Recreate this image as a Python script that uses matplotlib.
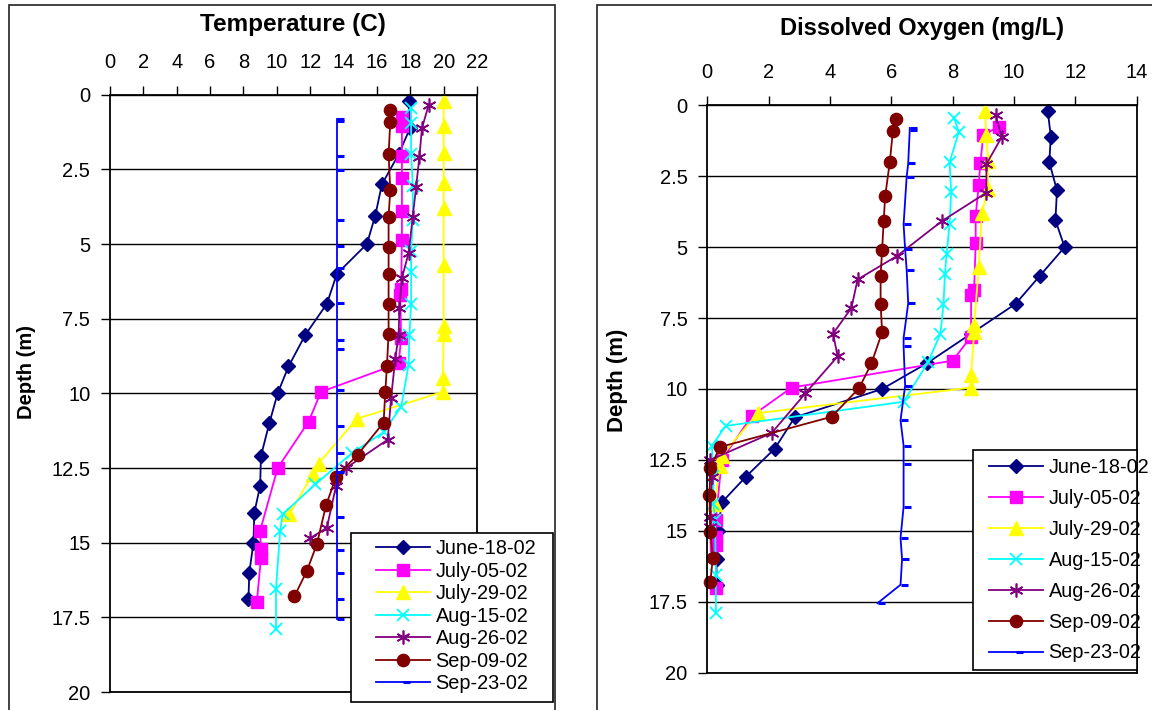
import matplotlib
matplotlib.use("Agg")
import matplotlib.pyplot as plt
from matplotlib.patches import Rectangle
from matplotlib.path import Path
from matplotlib.lines import Line2D

plt.rcParams['font.family'] = ['Liberation Sans', 'DejaVu Sans']

labels = ["June-18-02", "July-05-02", "July-29-02", "Aug-15-02", "Aug-26-02", "Sep-09-02", "Sep-23-02"]

jun18_depth = [0.2, 1.1, 2.0, 3.0, 4.05, 5.0, 6.0, 7.0, 8.05, 9.1, 10.0, 11.0, 12.1, 13.1, 14.0, 15.0, 16.0, 16.9]
jun18_temp = [17.9, 18.0, 17.3, 16.3, 15.9, 15.4, 13.6, 13.0, 11.7, 10.7, 10.05, 9.55, 9.05, 9.0, 8.65, 8.6, 8.35, 8.3]
jun18_do = [11.1, 11.2, 11.15, 11.4, 11.35, 11.65, 10.85, 10.05, 8.6, 7.15, 5.7, 2.85, 2.2, 1.25, 0.47, 0.35, 0.3, 0.3]

jul05_depth = [0.75, 1.05, 2.05, 2.8, 3.9, 4.85, 6.5, 6.7, 8.15, 9.0, 9.95, 10.95, 12.5, 14.6, 15.2, 15.5, 17.0]
jul05_temp = [17.5, 17.5, 17.5, 17.5, 17.5, 17.5, 17.45, 17.4, 17.45, 17.3, 12.65, 11.9, 10.05, 9.0, 9.05, 9.05, 8.8]
jul05_do = [9.5, 9.0, 8.9, 8.85, 8.75, 8.75, 8.7, 8.6, 8.6, 8.0, 2.75, 1.45, 0.47, 0.28, 0.28, 0.28, 0.28]

jul29_depth = [0.2, 1.05, 1.95, 2.95, 3.8, 5.7, 7.75, 8.0, 9.5, 9.95, 10.85, 12.35, 12.7, 14.05]
jul29_temp = [20.0, 20.0, 20.0, 20.0, 20.0, 20.0, 20.0, 20.0, 19.95, 19.95, 14.8, 12.5, 12.15, 10.75]
jul29_do = [9.05, 9.1, 9.15, 9.15, 8.95, 8.85, 8.7, 8.7, 8.6, 8.6, 1.65, 0.47, 0.4, 0.25]

aug15_depth = [0.45, 0.95, 2.0, 3.05, 4.2, 5.25, 5.95, 7.0, 8.05, 9.05, 10.45, 11.3, 12.0, 13.05, 14.05, 14.6, 16.55, 17.9]
aug15_temp = [18.05, 18.05, 18.05, 18.15, 18.15, 18.05, 18.05, 18.05, 17.95, 17.9, 17.45, 16.4, 14.5, 12.3, 10.35, 10.2, 9.95, 9.95]
aug15_do = [8.05, 8.2, 7.9, 7.95, 7.9, 7.8, 7.75, 7.7, 7.6, 7.2, 6.4, 0.6, 0.15, 0.2, 0.2, 0.25, 0.28, 0.28]

aug26_depth = [0.35, 1.12, 2.07, 3.08, 4.08, 5.3, 6.14, 7.14, 8.05, 8.85, 10.15, 11.55, 12.5, 13.1, 14.5, 14.85]
aug26_temp = [19.1, 18.7, 18.55, 18.35, 18.15, 17.9, 17.5, 17.35, 17.3, 17.1, 16.85, 16.65, 14.15, 13.55, 13.0, 12.0]
aug26_do = [9.4, 9.6, 9.1, 9.1, 7.65, 6.2, 4.9, 4.7, 4.1, 4.25, 3.2, 2.1, 0.1, 0.15, 0.1, 0.1]

sep09_depth = [0.5, 0.92, 2.0, 3.2, 4.08, 5.1, 6.0, 7.0, 8.0, 9.1, 9.97, 10.98, 12.05, 12.8, 13.75, 15.05, 15.95, 16.8]
sep09_temp = [16.8, 16.8, 16.7, 16.8, 16.7, 16.7, 16.7, 16.7, 16.7, 16.6, 16.5, 16.4, 14.85, 13.55, 12.95, 12.4, 11.8, 11.05]
sep09_do = [6.15, 6.05, 5.95, 5.8, 5.75, 5.7, 5.65, 5.65, 5.7, 5.35, 4.95, 4.05, 0.4, 0.1, 0.07, 0.1, 0.18, 0.1]

sep23_depth = [0.8, 0.88, 2.05, 2.52, 4.2, 5.08, 5.8, 6.98, 8.2, 8.5, 9.88, 11.1, 12.0, 12.65, 14.15, 15.25, 16.0, 16.9, 17.55]
sep23_temp = [13.6, 13.6, 13.6, 13.6, 13.6, 13.6, 13.6, 13.6, 13.6, 13.6, 13.6, 13.6, 13.6, 13.6, 13.6, 13.6, 13.6, 13.6, 13.6]
sep23_do = [6.6, 6.6, 6.55, 6.5, 6.4, 6.45, 6.5, 6.55, 6.4, 6.4, 6.45, 6.3, 6.4, 6.4, 6.4, 6.3, 6.35, 6.3, 5.55]

temp_ticks = list(range(0, 23, 2))
do_ticks = list(range(0, 15, 2))
depth_ticks = [0, 2.5, 5, 7.5, 10, 12.5, 15, 17.5, 20]
depth_ticklabels = ["0", "2.5", "5", "7.5", "10", "12.5", "15", "17.5", "20"]

dash_right = Path([(0, 0), (1, 0)], [Path.MOVETO, Path.LINETO])
styles = [
    dict(color="#000080", marker="D", ms=7, mfc="#000080", mec="#000080"),
    dict(color="#FF00FF", marker="s", ms=9, mfc="#FF00FF", mec="#FF00FF"),
    dict(color="#FFFF00", marker="^", ms=10, mfc="#FFFF00", mec="#FFFF00"),
    dict(color="#00FFFF", marker="x", ms=9, mfc="none", mec="#00FFFF", mew=1.3),
    dict(color="#800080", marker=(6, 2, 0), ms=10, mec="#800080", mew=1.2),
    dict(color="#800000", marker="o", ms=8.8, mfc="#800000", mec="#800000"),
    dict(color="#0000FF", marker=dash_right, ms=9.5, mec="#0000FF", mew=2.2),
]

W, H = 1152, 710
fig = plt.figure(figsize=(W / 100, H / 100), dpi=100)

def fx(px):
    return px / W

def fy(py):
    return 1 - py / H

FS = 14.5
LFS = 14.3

def setup(ax, xmax, xticks):
    ax.set_xlim(0, xmax)
    ax.set_ylim(20, 0)
    ax.xaxis.tick_top()
    ax.set_xticks(xticks)
    ax.set_yticks(depth_ticks)
    ax.set_yticklabels(depth_ticklabels)
    ax.tick_params(axis="x", direction="out", length=6.2, width=1, pad=10.5, labelsize=FS)
    ax.tick_params(axis="y", direction="out", length=6.2, width=1, pad=8, labelsize=FS)
    ax.grid(axis="y", color="black", lw=1)
    ax.set_axisbelow(True)
    for s in ax.spines.values():
        s.set_linewidth(1.3)
        s.set_color("black")

# Outer chart frames
fig.add_artist(Rectangle((fx(9), fy(715)), fx(555) - fx(9), fy(5) - fy(715), transform=fig.transFigure,
                         fill=False, ec="#333333", lw=1.3, zorder=0))
fig.add_artist(Rectangle((fx(597), fy(715)), fx(1160) - fx(597), fy(5) - fy(715), transform=fig.transFigure,
                         fill=False, ec="#333333", lw=1.3, zorder=0))

ax1 = fig.add_axes([fx(110), fy(692), fx(477) - fx(110), fy(94.7) - fy(692)])
ax2 = fig.add_axes([fx(707.3), fy(672.7), fx(1136.7) - fx(707.3), fy(105.3) - fy(672.7)])
setup(ax1, 22, temp_ticks)
setup(ax2, 14, do_ticks)

temps = [jun18_temp, jul05_temp, jul29_temp, aug15_temp, aug26_temp, sep09_temp, sep23_temp]
dos = [jun18_do, jul05_do, jul29_do, aug15_do, aug26_do, sep09_do, sep23_do]
depths = [jun18_depth, jul05_depth, jul29_depth, aug15_depth, aug26_depth, sep09_depth, sep23_depth]

handles = []
for t, d, dep, lab, st in zip(temps, dos, depths, labels, styles):
    ax1.plot(t, dep, lw=1.3, clip_on=False, **st)
    ax2.plot(d, dep, lw=1.3, clip_on=False, **st)
    handles.append(Line2D([], [], lw=1.3, **st))

fig.text(fx(293), fy(24), "Temperature (C)", ha="center", va="center", fontsize=17.5, fontweight="bold")
fig.text(fx(922), fy(28), "Dissolved Oxygen (mg/L)", ha="center", va="center", fontsize=17, fontweight="bold")
fig.text(fx(27), fy(372), "Depth (m)", ha="center", va="center", rotation=90, fontsize=14.5, fontweight="bold")
fig.text(fx(617), fy(380), "Depth (m)", ha="center", va="center", rotation=90, fontsize=16, fontweight="bold")

# Legend boxes
fig.add_artist(Rectangle((fx(351), fy(702)), fx(553) - fx(351), fy(533) - fy(702), transform=fig.transFigure,
                         fc="white", ec="black", lw=1.2, zorder=4))
fig.add_artist(Rectangle((fx(972.7), fy(670)), fx(1137) - fx(972.7), fy(450) - fy(670), transform=fig.transFigure,
                         fc="white", ec="black", lw=1.2, zorder=4))

fig.legend(handles, labels, loc="upper left", bbox_to_anchor=(fx(376), fy(539)), frameon=False,
           borderpad=0, borderaxespad=0, fontsize=LFS, handlelength=2.7, handletextpad=0.3,
           labelspacing=0.18, numpoints=1)
fig.legend(handles, labels, loc="upper left", bbox_to_anchor=(fx(989), fy(458)), frameon=False,
           borderpad=0, borderaxespad=0, fontsize=LFS, handlelength=2.7, handletextpad=0.3,
           labelspacing=0.6, numpoints=1)

fig.savefig("out.png", dpi=100)
